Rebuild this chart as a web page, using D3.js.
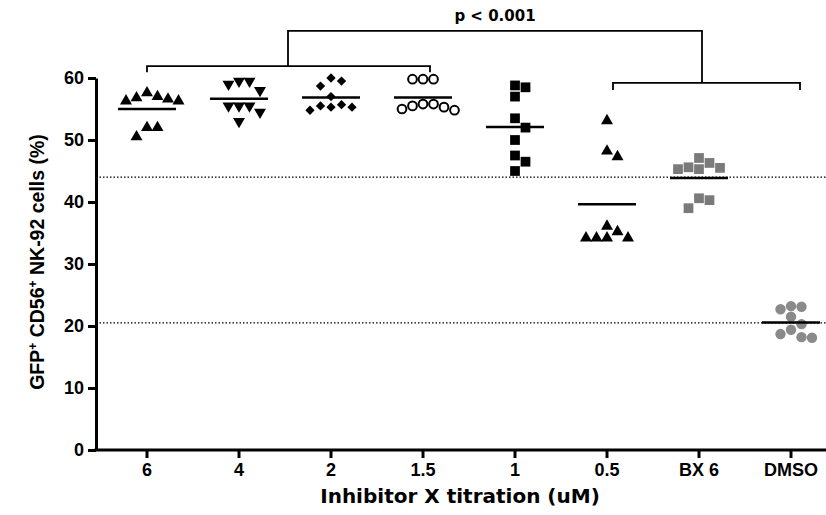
<!DOCTYPE html>
<html>
  <head>
    <meta charset="utf-8">
    <title>Inhibitor X titration</title>
    <script src="https://d3js.org/d3.v7.min.js"></script>
    <style>
      body { margin: 0; background: #fff; }
      svg { display: block; font-family: "DejaVu Sans", sans-serif; }
      text { fill: #000; }
      .axis text { font-size: 18px; font-weight: bold; fill: #000; }
      .axis line, .axis path { stroke: #000; stroke-width: 3; }
    </style>
  </head>
  <body>
    <svg id="chart" width="826" height="515"></svg>
    <script>
      // categories and the nine replicate values
      const groups = ["6", "4", "2", "1.5", "1", "0.5", "BX 6", "DMSO"];
      const vals6 = [57.6, 56.8, 56.3, 56.3, 56.6, 57.0, 52.0, 50.5, 52.0];
      const vals4 = [59.5, 59.0, 59.5, 58.0, 55.5, 55.5, 55.5, 54.5, 53.0];
      const vals2 = [59.5, 58.7, 60.0, 55.7, 55.3, 54.8, 55.3, 55.5, 57.0];
      const vals15 = [59.8, 59.8, 59.8, 55.8, 55.3, 54.8, 55.0, 55.5, 55.8];
      const vals1 = [58.5, 58.8, 57.0, 53.5, 52.0, 50.0, 47.5, 46.5, 45.0];
      const vals05 = [53.1, 48.2, 47.3, 36.1, 35.2, 34.2, 34.2, 34.2, 34.2];
      const valsBX = [47.1, 45.6, 45.3, 45.3, 45.5, 46.3, 40.6, 39.0, 40.3];
      const valsDMSO = [23.2, 22.7, 23.1, 21.5, 20.3, 19.4, 18.7, 18.1, 18.2];
      const yTicks = [0, 10, 20, 30, 40, 50, 60];
      const refLines = [44, 20.5];   // dotted reference levels
      const pLabel = "p < 0.001";

      const series = [
        { name: "6", values: vals6, shape: "up", fill: "#000" },
        { name: "4", values: vals4, shape: "down", fill: "#000" },
        { name: "2", values: vals2, shape: "diamond", fill: "#000" },
        { name: "1.5", values: vals15, shape: "open", fill: "#fff" },
        { name: "1", values: vals1, shape: "square", fill: "#000" },
        { name: "0.5", values: vals05, shape: "up", fill: "#000" },
        { name: "BX 6", values: valsBX, shape: "square", fill: "#7a7a7a" },
        { name: "DMSO", values: valsDMSO, shape: "circle", fill: "#8a8a8a" }
      ];

      const margin = { top: 78, left: 96, bottom: 65 };
      const width = 826, height = 515;
      const svg = d3.select("#chart");

      const x = d3.scaleBand().domain(groups).range([101, 837]);
      const y = d3.scaleLinear().domain([0, 60]).range([height - margin.bottom, margin.top]);
      const cx = function(g) { return x(g) + x.bandwidth() / 2; };

      // dotted reference lines
      svg.selectAll(".ref")
        .data(refLines)
        .enter().append("line")
          .attr("x1", margin.left)
          .attr("x2", width)
          .attr("y1", function(d) { return y(d); })
          .attr("y2", function(d) { return y(d); })
          .attr("stroke", "#000")
          .attr("stroke-width", 1.3)
          .attr("stroke-dasharray", "1.5,2");

      // axes
      const yAxis = d3.axisLeft(y).tickValues(yTicks).tickSize(8).tickSizeOuter(0).tickPadding(4);
      svg.append("g")
        .attr("class", "axis")
        .attr("transform", "translate(" + margin.left + ",0)")
        .call(yAxis);

      const xAxis = d3.axisBottom(x).tickSize(8).tickSizeOuter(0).tickPadding(5);
      const xg = svg.append("g")
        .attr("class", "axis")
        .attr("transform", "translate(0," + y(0) + ")")
        .call(xAxis);
      xg.select(".domain").remove();
      xg.append("line")
        .attr("x1", margin.left - 1.5)
        .attr("x2", width)
        .attr("stroke", "#000")
        .attr("stroke-width", 3);

      // simple column-scatter layout: spread points that would overlap
      function swarm(values, step, minGap) {
        const placed = [];
        const order = values.map(function(v, i) { return i; })
          .sort(function(a, b) { return values[b] - values[a]; });
        const offs = new Array(values.length);
        order.forEach(function(i) {
          const py = y(values[i]);
          for (let k = 0; k < 20; k++) {
            const cand = k === 0 ? 0 : (k % 2 ? 1 : -1) * Math.ceil(k / 2) * step;
            const hit = placed.some(function(p) {
              return Math.abs(p.x - cand) < minGap && Math.abs(p.y - py) < minGap;
            });
            if (!hit) { placed.push({ x: cand, y: py }); offs[i] = cand; break; }
          }
        });
        return offs;
      }

      const sym = {
        up: d3.symbol().type(d3.symbolTriangle).size(62),
        down: d3.symbol().type(d3.symbolTriangle).size(62),
        diamond: d3.symbol().type(d3.symbolDiamond2).size(55),
        square: d3.symbol().type(d3.symbolSquare).size(95),
        open: d3.symbol().type(d3.symbolCircle).size(60),
        circle: d3.symbol().type(d3.symbolCircle).size(85)
      };

      series.forEach(function(s) {
        const offs = swarm(s.values, 10.5, 10);
        const g = svg.append("g");
        g.selectAll("path")
          .data(s.values)
          .enter().append("path")
            .attr("d", sym[s.shape]())
            .attr("transform", function(d, i) {
              return "translate(" + (cx(s.name) + offs[i]) + "," + y(d) + ")" + (s.shape === "down" ? " rotate(180)" : "");
            })
            .attr("fill", s.fill)
            .attr("stroke", s.shape === "open" ? "#000" : "none")
            .attr("stroke-width", 2);
        const mean = d3.mean(s.values);
        g.append("line")
          .attr("x1", cx(s.name) - 29)
          .attr("x2", cx(s.name) + 29)
          .attr("y1", y(mean))
          .attr("y2", y(mean))
          .attr("stroke", "#000")
          .attr("stroke-width", 2.5);
      });

      // significance brackets
      const br = svg.append("g").attr("fill", "none").attr("stroke", "#000").attr("stroke-width", 1.8);
      const leftY = y(61.9), rightY = y(59.2), topY = y(67.6);
      const leftMid = (cx("6") + cx("1.5")) / 2 + 3;
      const rightMid = (cx("0.5") + cx("DMSO")) / 2 + 3;
      br.append("path")
        .attr("d", "M" + cx("6") + "," + (leftY + 6) + "V" + leftY + "H" + (cx("1.5") + 7) + "V" + (leftY + 6));
      br.append("path")
        .attr("d", "M" + (cx("0.5") + 6) + "," + (rightY + 7) + "V" + rightY + "H" + (cx("DMSO") + 9) + "V" + (rightY + 7));
      br.append("path")
        .attr("d", "M" + leftMid + "," + leftY + "V" + topY + "H" + rightMid + "V" + rightY);
      svg.append("text")
        .attr("x", (leftMid + rightMid) / 2)
        .attr("y", topY - 10)
        .attr("text-anchor", "middle")
        .style("font-size", "15px")
        .style("font-weight", "bold")
        .text(pLabel);

      // axis titles
      svg.append("text")
        .attr("x", 460)
        .attr("y", 503)
        .attr("text-anchor", "middle")
        .style("font-size", "20px")
        .style("font-weight", "bold")
        .text("Inhibitor X titration (uM)");

      const yt = svg.append("text")
        .attr("transform", "translate(44," + (y(30) - 2) + ") rotate(-90)")
        .attr("text-anchor", "middle")
        .style("font-family", "'Liberation Sans', Arial, sans-serif")
        .style("font-size", "19.5px")
        .style("font-weight", "bold");
      yt.append("tspan").text("GFP");
      yt.append("tspan").attr("baseline-shift", "super").style("font-size", "12px").text("+");
      yt.append("tspan").text(" CD56");
      yt.append("tspan").attr("baseline-shift", "super").style("font-size", "12px").text("+");
      yt.append("tspan").text(" NK-92 cells (%)");
    </script>
  </body>
</html>
